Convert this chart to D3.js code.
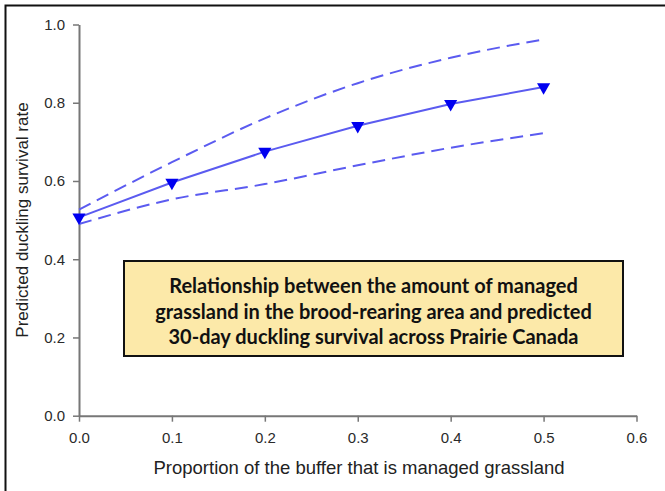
<!DOCTYPE html>
<html><head><meta charset="utf-8">
<script src="https://cdn.jsdelivr.net/npm/d3@7"></script>
<style>
body{margin:0;background:#fff;}
svg{display:block;}
</style></head>
<body>
<svg id="c" width="665" height="491"></svg>
<script>
const xValues = [0.0, 0.1, 0.2, 0.3, 0.4, 0.5];
const predicted = [0.507, 0.596, 0.675, 0.741, 0.797, 0.840];
const upperCI = [0.527, 0.648, 0.760, 0.850, 0.915, 0.962];
const lowerCI = [0.490, 0.553, 0.592, 0.640, 0.685, 0.722];
const xTicks = [0.0, 0.1, 0.2, 0.3, 0.4, 0.5, 0.6];
const yTicks = [0.0, 0.2, 0.4, 0.6, 0.8, 1.0];
const xTitle = "Proportion of the buffer that is managed grassland";
const yTitle = "Predicted duckling survival rate";
const boxLines = ["Relationship between the amount of managed",
  "grassland in the brood-rearing area and predicted",
  "30-day duckling survival across Prairie Canada"];

const svg = d3.select("#c");
const x = d3.scaleLinear().domain([0, 0.6]).range([79, 636.5]);
const y = d3.scaleLinear().domain([0, 1]).range([415.7, 24.5]);

// outer frame (left + top)
svg.append("path").attr("d","M5.5,491 L5.5,5.5 L665,5.5")
  .attr("fill","none").attr("stroke","#111").attr("stroke-width",2);

const axisColor = "#777";
const gx = svg.append("g").attr("transform",`translate(0,${y(0)})`)
  .call(d3.axisBottom(x).tickValues(xTicks).tickFormat(d3.format(".1f")).tickSize(6).tickSizeOuter(0));
const gy = svg.append("g").attr("transform",`translate(${x(0)},0)`)
  .call(d3.axisLeft(y).tickValues(yTicks).tickFormat(d3.format(".1f")).tickSize(6).tickSizeOuter(0));
[gx,gy].forEach(g=>{
  g.attr("font-size",null).attr("font-family",null);
  g.select(".domain").attr("stroke",axisColor).attr("stroke-width",2);
  g.selectAll(".tick line").attr("stroke",axisColor).attr("stroke-width",1.5);
  g.selectAll(".tick text").attr("fill","#2a2a2a").style("font-family","'Liberation Sans',Arial,sans-serif").style("font-size","15px");
});
gx.selectAll(".tick text").attr("y",22).attr("dy","0.35em");
gy.selectAll(".tick text").attr("x",-14);

// axis titles
svg.append("text").attr("x",359).attr("y",468).attr("dy","0.35em").attr("text-anchor","middle")
  .style("font-family","'Liberation Sans',Arial,sans-serif").style("font-size","18.5px").attr("fill","#222")
  .text(xTitle);
svg.append("text").attr("transform",`translate(22,220) rotate(-90)`).attr("dy","0.35em").attr("text-anchor","middle")
  .style("font-family","'Liberation Sans',Arial,sans-serif").style("font-size","17px").attr("fill","#222")
  .text(yTitle);

const lineCol = "#5b5bf0";
const pts = arr => xValues.map((v,i)=>[x(v), y(arr[i])]);
const smooth = d3.line().curve(d3.curveMonotoneX);
const straight = d3.line();
[upperCI, lowerCI].forEach(arr=>{
  svg.append("path").attr("d", smooth(pts(arr))).attr("fill","none")
    .attr("stroke",lineCol).attr("stroke-width",2).attr("stroke-dasharray","13,7");
});
svg.append("path").attr("d", straight(pts(predicted))).attr("fill","none")
  .attr("stroke",lineCol).attr("stroke-width",2);
const tri = d3.symbol().type(d3.symbolTriangle).size(75);
svg.selectAll(".m").data(pts(predicted)).enter().append("path")
  .attr("d", tri).attr("transform", d=>`translate(${d[0]},${d[1]}) rotate(180)`)
  .attr("fill","#0000f0");

// annotation box
svg.append("rect").attr("x",124).attr("y",261).attr("width",499).attr("height",95)
  .attr("fill","#fce9a9").attr("stroke","#111").attr("stroke-width",2);
const lineY = [286, 311.5, 337];
boxLines.forEach((t,i)=>{
  svg.append("text").attr("x",373.5).attr("y",lineY[i]).attr("dy","0.35em").attr("text-anchor","middle")
    .style("font-family","Lato,'Open Sans',sans-serif").style("font-weight","bold").style("font-size","20px")
    .attr("fill","#111").text(t);
});
</script>
</body></html>
